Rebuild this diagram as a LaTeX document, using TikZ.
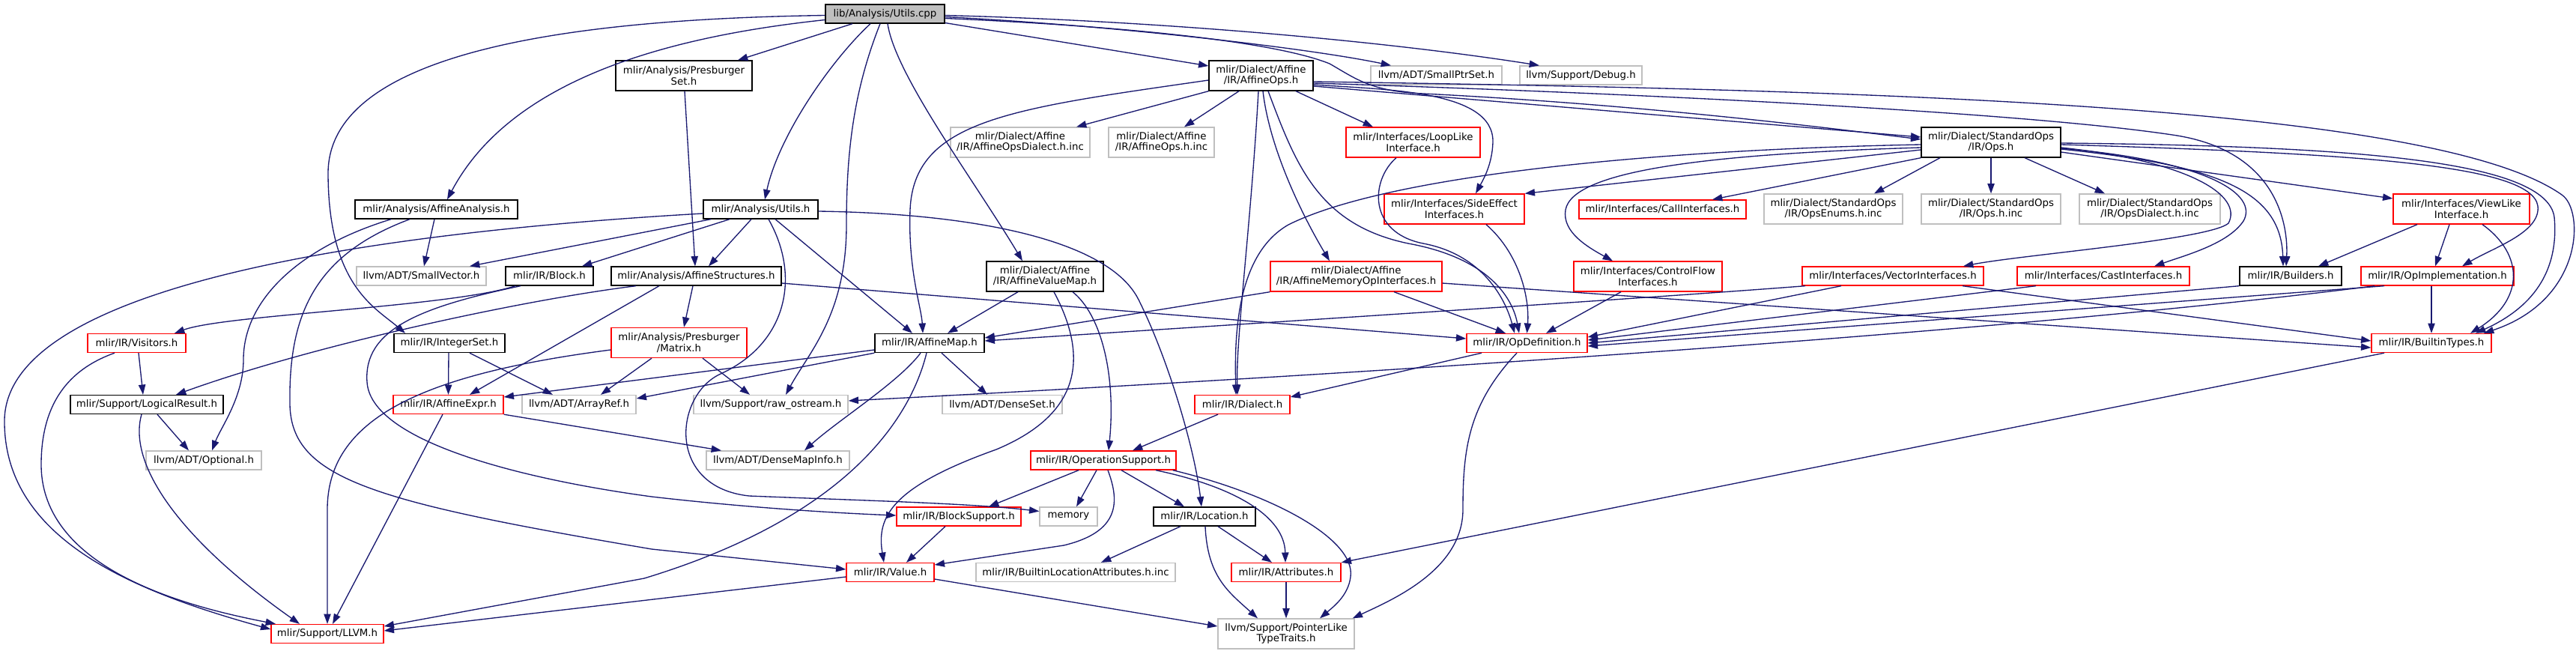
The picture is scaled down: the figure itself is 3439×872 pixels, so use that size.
\documentclass[tikz,border=0pt]{standalone}
\usepackage{fontspec}
\setmainfont{DejaVu Sans}
\usetikzlibrary{arrows.meta}
\definecolor{edgec}{HTML}{191970}
\definecolor{grayb}{HTML}{BFBFBF}
\definecolor{redb}{HTML}{FF0000}
\newcommand{\gvfont}{\fontsize{10}{10.7}\selectfont}
\begin{document}
\begin{tikzpicture}[x=0.75pt,y=-0.75pt,
  nd/.style={draw, line width=1pt, inner sep=0pt, align=center, font=\gvfont, fill=white, text=black},
  blk/.style={nd, draw=black},
  rdn/.style={nd, draw=redb},
  grn/.style={nd, draw=grayb},
  sz/.style 2 args={minimum width=#1*0.75pt, minimum height=#2*0.75pt},
  edg/.style={draw=edgec, line width=1pt, -{Triangle[length=10pt,width=7pt]}}]
\fill[white] (0,0) rectangle (3439,872);
\useasboundingbox (0,0) rectangle (3439,872);
% nodes
\node[blk, sz={159}{25}, fill=grayb] (root) at (1181.5,18.5) {lib/Analysis/Utils.cpp};
\node[blk, sz={182}{40}] (presSet) at (913,101) {mlir/Analysis/Presburger\\Set.h};
\node[blk, sz={139}{40}] (affOps) at (1683.5,101) {mlir/Dialect/Affine\\/IR/AffineOps.h};
\node[grn, sz={175}{25}] (smallPtr) at (1917.5,100.5) {llvm/ADT/SmallPtrSet.h};
\node[grn, sz={163}{25}] (debug) at (2110.5,100.5) {llvm/Support/Debug.h};
\node[grn, sz={186}{40}] (affDialInc) at (1362,190) {mlir/Dialect/Affine\\/IR/AffineOpsDialect.h.inc};
\node[grn, sz={141}{40}] (affOpsInc) at (1550.5,190) {mlir/Dialect/Affine\\/IR/AffineOps.h.inc};
\node[rdn, sz={179}{40}] (loopLike) at (1886.5,190) {mlir/Interfaces/LoopLike\\Interface.h};
\node[blk, sz={186}{40}] (stdOps) at (2658,190) {mlir/Dialect/StandardOps\\/IR/Ops.h};
\node[blk, sz={217}{25}] (affAnal) at (582.5,279.5) {mlir/Analysis/AffineAnalysis.h};
\node[blk, sz={153}{25}] (utilsH) at (1015.5,279.5) {mlir/Analysis/Utils.h};
\node[rdn, sz={187}{40}] (sideEff) at (1941.5,279) {mlir/Interfaces/SideEffect\\Interfaces.h};
\node[rdn, sz={223}{25}] (callIf) at (2219.5,279.5) {mlir/Interfaces/CallInterfaces.h};
\node[grn, sz={185}{40}] (opsEnums) at (2447.5,279) {mlir/Dialect/StandardOps\\/IR/OpsEnums.h.inc};
\node[grn, sz={186}{40}] (opsInc) at (2658,279) {mlir/Dialect/StandardOps\\/IR/Ops.h.inc};
\node[grn, sz={188}{40}] (opsDial) at (2870,279) {mlir/Dialect/StandardOps\\/IR/OpsDialect.h.inc};
\node[rdn, sz={182}{40}] (viewLike) at (3286,279) {mlir/Interfaces/ViewLike\\Interface.h};
\node[grn, sz={173}{25}] (smallVec) at (562.5,368.5) {llvm/ADT/SmallVector.h};
\node[blk, sz={117}{25}] (block) at (733.5,368.5) {mlir/IR/Block.h};
\node[blk, sz={227}{25}] (affStruct) at (929.5,368.5) {mlir/Analysis/AffineStructures.h};
\node[blk, sz={156}{40}] (affVM) at (1395,369) {mlir/Dialect/Affine\\/IR/AffineValueMap.h};
\node[rdn, sz={229}{40}] (affMem) at (1810.5,369) {mlir/Dialect/Affine\\/IR/AffineMemoryOpInterfaces.h};
\node[rdn, sz={198}{40}] (ctrlFlow) at (2200,369) {mlir/Interfaces/ControlFlow\\Interfaces.h};
\node[rdn, sz={242}{25}] (vecIf) at (2527,368.5) {mlir/Interfaces/VectorInterfaces.h};
\node[rdn, sz={230}{25}] (castIf) at (2808,368.5) {mlir/Interfaces/CastInterfaces.h};
\node[blk, sz={136}{25}] (builders) at (3058,368.5) {mlir/IR/Builders.h};
\node[rdn, sz={204}{25}] (opImpl) at (3254,368.5) {mlir/IR/OpImplementation.h};
\node[rdn, sz={131}{25}] (visitors) at (182.5,458) {mlir/IR/Visitors.h};
\node[blk, sz={148}{25}] (intSet) at (600,458) {mlir/IR/IntegerSet.h};
\node[rdn, sz={181}{40}] (matrix) at (906.5,457.5) {mlir/Analysis/Presburger\\/Matrix.h};
\node[blk, sz={146}{25}] (affMap) at (1241,458) {mlir/IR/AffineMap.h};
\node[rdn, sz={161}{25}] (opDef) at (2038.5,458) {mlir/IR/OpDefinition.h};
\node[rdn, sz={160}{25}] (builtinTypes) at (3246,458) {mlir/IR/BuiltinTypes.h};
\node[blk, sz={204}{25}] (logRes) at (196,540) {mlir/Support/LogicalResult.h};
\node[rdn, sz={147}{25}] (affExpr) at (598.5,540) {mlir/IR/AffineExpr.h};
\node[grn, sz={152}{25}] (arrayRef) at (773,540) {llvm/ADT/ArrayRef.h};
\node[grn, sz={206}{25}] (rawOs) at (1029,540) {llvm/Support/raw\_ostream.h};
\node[grn, sz={160}{25}] (denseSet) at (1338,540) {llvm/ADT/DenseSet.h};
\node[rdn, sz={127}{25}] (dialect) at (1658.5,540) {mlir/IR/Dialect.h};
\node[grn, sz={154}{25}] (optional) at (272,614.5) {llvm/ADT/Optional.h};
\node[grn, sz={191}{25}] (denseMapInfo) at (1038.5,614.5) {llvm/ADT/DenseMapInfo.h};
\node[rdn, sz={194}{25}] (opSupport) at (1473,614.5) {mlir/IR/OperationSupport.h};
\node[rdn, sz={166}{25}] (blockSupport) at (1280,689.5) {mlir/IR/BlockSupport.h};
\node[grn, sz={77}{25}] (memory) at (1426.5,689.5) {memory};
\node[blk, sz={136}{25}] (location) at (1608,689.5) {mlir/IR/Location.h};
\node[rdn, sz={117}{25}] (value) at (1188.5,764) {mlir/IR/Value.h};
\node[grn, sz={266}{25}] (builtinLoc) at (1436,764) {mlir/IR/BuiltinLocationAttributes.h.inc};
\node[rdn, sz={146}{25}] (attributes) at (1717,764) {mlir/IR/Attributes.h};
\node[grn, sz={182}{40}] (pointerLike) at (1717,846) {llvm/Support/PointerLike\\TypeTraits.h};
\node[rdn, sz={150}{25}] (llvm) at (437,846) {mlir/Support/LLVM.h};
% edges from root
\draw[edg] ([shift={(0,8)}]root.west) .. controls (880,50) and (680,110) .. ([shift={(14.5,0)}]affAnal.north);
\draw[edg] ([shift={(0,2)}]root.west) .. controls (800,25) and (440,60) .. (438,230) .. controls (438,380) and (500,410) .. ([shift={(-59,0)}]intSet.north);
\draw[edg] ([shift={(-43.5,0)}]root.south) -- ([shift={(72,0)}]presSet.north);
\draw[edg] ([shift={(-19.5,0)}]root.south) .. controls (1110,80) and (1040,180) .. ([shift={(5.5,0)}]utilsH.north);
\draw[edg] ([shift={(-6.5,0)}]root.south) .. controls (1140,120) and (1130,200) .. (1130,300) .. controls (1130,420) and (1080,470) .. ([shift={(20,0)}]rawOs.north);
\draw[edg] ([shift={(3.5,0)}]root.south) .. controls (1195,100) and (1300,240) .. ([shift={(-30,0)}]affVM.north);
\draw[edg] ([shift={(0,12)}]root.east) -- ([shift={(0,-13)}]affOps.west);
\draw[edg] ([shift={(0,4)}]root.east) .. controls (1500,35) and (1750,65) .. ([shift={(-60.5,0)}]smallPtr.north);
\draw[edg] ([shift={(0,2)}]root.east) .. controls (1550,28) and (1850,55) .. ([shift={(-55.5,0)}]debug.north);
\draw[edg] ([shift={(0,6)}]root.east) .. controls (1500,35) and (1700,55) .. (1775,85) .. controls (1810,105) and (1830,122) .. (1900,125) .. controls (2200,140) and (2450,172) .. ([shift={(0,-4)}]stdOps.west);
% edges from AffineOps
\draw[edg] ([shift={(0,12)}]affOps.east) .. controls (1850,120) and (1995,120) .. (1993,190) .. controls (1992,220) and (1980,240) .. ([shift={(28.5,0)}]sideEff.north);
\draw[edg] ([shift={(0,14)}]affOps.east) -- ([shift={(0,-7)}]stdOps.west);
\draw[edg] ([shift={(0,10)}]affOps.east) .. controls (2200,125) and (2700,150) .. (2900,180) .. controls (3040,200) and (3055,300) .. ([shift={(-6,0)}]builders.north);
\draw[edg] ([shift={(0,8)}]affOps.east) .. controls (2500,120) and (3250,140) .. (3420,260) .. controls (3450,280) and (3450,400) .. ([shift={(70,0)}]builtinTypes.north);
\draw[edg] (affOps.south west) -- ([shift={(75,0)}]affDialInc.north);
\draw[edg] ([shift={(-29.5,0)}]affOps.south) -- ([shift={(30.5,0)}]affOpsInc.north);
\draw[edg] ([shift={(46.5,0)}]affOps.south) -- ([shift={(-53.5,0)}]loopLike.north);
\draw[edg] ([shift={(0,6)}]affOps.west) .. controls (1350,145) and (1220,160) .. (1215,280) .. controls (1212,360) and (1230,410) .. ([shift={(-9,0)}]affMap.north);
\draw[edg] ([shift={(-3.5,0)}]affOps.south) .. controls (1670,300) and (1650,450) .. ([shift={(-6.5,0)}]dialect.north);
\draw[edg] ([shift={(2.5,0)}]affOps.south) .. controls (1695,200) and (1740,290) .. ([shift={(-35.5,0)}]affMem.north);
\draw[edg] ([shift={(9.5,0)}]affOps.south) .. controls (1730,220) and (1760,300) .. (1880,325) .. controls (1990,345) and (2020,400) .. ([shift={(-10.5,0)}]opDef.north);
% Presburger set, Utils.h
\draw[edg] ([shift={(1,0)}]presSet.south) -- ([shift={(-1.5,0)}]affStruct.north);
\draw[edg] ([shift={(-12.5,0)}]utilsH.south) -- ([shift={(16.5,0)}]affStruct.north);
\draw[edg] ([shift={(-66.5,0)}]utilsH.south) -- ([shift={(64.5,0)}]smallVec.north);
\draw[edg] ([shift={(-41.5,0)}]utilsH.south) -- ([shift={(43.5,0)}]block.north);
\draw[edg] ([shift={(0,5.5)}]utilsH.west) .. controls (500,310) and (10,380) .. (6,560) .. controls (4,720) and (180,790) .. ([shift={(0,-6)}]llvm.west);
\draw[edg] ([shift={(10.5,0)}]utilsH.south) .. controls (1070,370) and (1050,460) .. (960,500) .. controls (900,530) and (890,650) .. (1000,662) .. controls (1150,668) and (1300,672) .. ([shift={(0,-7)}]memory.west);
\draw[edg] ([shift={(19.5,0)}]utilsH.south) -- ([shift={(-23,0)}]affMap.north);
\draw[edg] ([shift={(0,2.5)}]utilsH.east) .. controls (1300,285) and (1480,320) .. (1520,400) .. controls (1560,480) and (1595,600) .. ([shift={(-4,0)}]location.north);
% AffineAnalysis, Block
\draw[edg] ([shift={(-2.5,0)}]affAnal.south) -- ([shift={(3.5,0)}]smallVec.north);
\draw[edg] ([shift={(-60.5,0)}]affAnal.south) .. controls (400,330) and (325,400) .. (325,480) .. controls (325,530) and (295,570) .. ([shift={(11,0)}]optional.north);
\draw[edg] ([shift={(-35.5,0)}]affAnal.south) .. controls (420,340) and (385,420) .. (387,540) .. controls (389,640) and (500,670) .. (870,733) -- ([shift={(0,-4)}]value.west);
\draw[edg] ([shift={(-45.5,0)}]block.south) .. controls (600,410) and (300,420) .. ([shift={(50.5,0)}]visitors.north);
\draw[edg] ([shift={(-38.5,0)}]block.south) .. controls (560,410) and (485,440) .. (490,510) .. controls (495,590) and (700,640) .. (870,663) .. controls (1000,678) and (1120,685) .. ([shift={(0,-1.5)}]blockSupport.west);
% AffineStructures
\draw[edg] ([shift={(-80.5,0)}]affStruct.south) .. controls (700,400) and (420,460) .. ([shift={(39,0)}]logRes.north);
\draw[edg] ([shift={(-49.5,0)}]affStruct.south) -- ([shift={(28.5,0)}]affExpr.north);
\draw[edg] ([shift={(-4.5,0)}]affStruct.south) -- ([shift={(6.5,0)}]matrix.north);
\draw[edg] ([shift={(0,9.5)}]affStruct.east) -- ([shift={(0,-6)}]opDef.west);
% IntegerSet, Matrix, Visitors, LogicalResult
\draw[edg] ([shift={(-1,0)}]intSet.south) -- (affExpr.north);
\draw[edg] ([shift={(27,0)}]intSet.south) -- ([shift={(-35,0)}]arrayRef.north);
\draw[edg] ([shift={(-36.5,0)}]matrix.south) -- ([shift={(29,0)}]arrayRef.north);
\draw[edg] ([shift={(31.5,0)}]matrix.south) -- ([shift={(-28,0)}]rawOs.north);
\draw[edg] ([shift={(0,9.5)}]matrix.west) .. controls (560,500) and (437,560) .. (437,680) -- (llvm.north);
\draw[edg] ([shift={(2.5,0)}]visitors.south) -- ([shift={(-5,0)}]logRes.north);
\draw[edg] ([shift={(-29.5,0)}]visitors.south) .. controls (100,490) and (55,530) .. (55,620) .. controls (55,760) and (250,810) .. ([shift={(-69,0)}]llvm.north);
\draw[edg] ([shift={(14,0)}]logRes.south) -- ([shift={(-20,0)}]optional.north);
\draw[edg] ([shift={(-7,0)}]logRes.south) .. controls (170,620) and (240,720) .. ([shift={(-37,0)}]llvm.north);
% AffineExpr, AffineMap
\draw[edg] ([shift={(-7.5,0)}]affExpr.south) -- ([shift={(7,0)}]llvm.north);
\draw[edg] (affExpr.south east) -- ([shift={(-75.5,0)}]denseMapInfo.north);
\draw[edg] ([shift={(0,9)}]affMap.west) -- ([shift={(0,-10)}]affExpr.east);
\draw[edg] (affMap.south west) -- ([shift={(0,-8)}]arrayRef.east);
\draw[edg] ([shift={(-12,0)}]affMap.south) .. controls (1200,510) and (1120,560) .. ([shift={(35.5,0)}]denseMapInfo.north);
\draw[edg] ([shift={(16,0)}]affMap.south) -- ([shift={(-20,0)}]denseSet.north);
\draw[edg] ([shift={(-4,0)}]affMap.south) .. controls (1215,560) and (1130,690) .. (860,772) -- ([shift={(0,-10)}]llvm.east);
% Value, BlockSupport, AffineValueMap
\draw[edg] ([shift={(0,6)}]value.west) -- ([shift={(0,-4)}]llvm.east);
\draw[edg] ([shift={(0,9)}]value.east) -- ([shift={(0,-10)}]pointerLike.west);
\draw[edg] ([shift={(-18,0)}]blockSupport.south) -- ([shift={(21.5,0)}]value.north);
\draw[edg] ([shift={(-36,0)}]affVM.south) -- ([shift={(24,0)}]affMap.north);
\draw[edg] ([shift={(12,0)}]affVM.south) .. controls (1450,470) and (1450,550) .. (1330,600) .. controls (1190,650) and (1170,690) .. ([shift={(-8.5,0)}]value.north);
\draw[edg] ([shift={(37,0)}]affVM.south) .. controls (1470,420) and (1490,500) .. ([shift={(7,0)}]opSupport.north);
% Dialect, OperationSupport, Location, Attributes
\draw[edg] ([shift={(-32.5,0)}]dialect.south) -- ([shift={(39,0)}]opSupport.north);
\draw[edg] ([shift={(-33,0)}]opSupport.south) -- ([shift={(40,0)}]blockSupport.north);
\draw[edg] ([shift={(-9,0)}]opSupport.south) -- ([shift={(10.5,0)}]memory.north);
\draw[edg] ([shift={(6,0)}]opSupport.south) .. controls (1495,670) and (1495,710) .. (1420,728) -- ([shift={(0,-10)}]value.east);
\draw[edg] ([shift={(24,0)}]opSupport.south) -- ([shift={(-27,0)}]location.north);
\draw[edg] ([shift={(70,0)}]opSupport.south) .. controls (1650,650) and (1715,690) .. ([shift={(-1,0)}]attributes.north);
\draw[edg] ([shift={(-5,0)}]opSupport.south east) .. controls (1700,660) and (1810,720) .. (1803,770) .. controls (1800,795) and (1780,810) .. ([shift={(45,0)}]pointerLike.north);
\draw[edg] ([shift={(-32,0)}]location.south) -- ([shift={(34,0)}]builtinLoc.north);
\draw[edg] ([shift={(18,0)}]location.south) -- ([shift={(-19,0)}]attributes.north);
\draw[edg] ([shift={(1,0)}]location.south) .. controls (1612,770) and (1640,790) .. ([shift={(-38,0)}]pointerLike.north);
\draw[edg] (attributes.south) -- (pointerLike.north);
% OpDefinition
\draw[edg] ([shift={(-13.5,0)}]opDef.south) .. controls (1960,540) and (1953,600) .. (1953,680) .. controls (1953,760) and (1860,800) .. ([shift={(-3,0)}]pointerLike.north east);
\draw[edg] ([shift={(-60.5,0)}]opDef.south) -- ([shift={(0,-10)}]dialect.east);
% interfaces into OpDefinition
\draw[edg] ([shift={(-22.5,0)}]loopLike.south) .. controls (1830,240) and (1825,310) .. (1900,325) .. controls (1980,340) and (2010,400) .. ([shift={(-16.5,0)}]opDef.north);
\draw[edg] ([shift={(42.5,0)}]sideEff.south) .. controls (2030,340) and (2042,400) .. (opDef.north);
\draw[edg] ([shift={(50.5,0)}]affMem.south) -- ([shift={(-28.5,0)}]opDef.north);
\draw[edg] (affMem.south west) -- ([shift={(0,-7)}]affMap.east);
\draw[edg] ([shift={(0,9)}]affMem.east) -- ([shift={(0,6)}]builtinTypes.west);
\draw[edg] ([shift={(-36,0)}]ctrlFlow.south) -- ([shift={(25.5,0)}]opDef.north);
\draw[edg] ([shift={(-69,0)}]vecIf.south) -- ([shift={(0,-8)}]opDef.east);
\draw[edg] ([shift={(-117,0)}]vecIf.south) .. controls (2200,398) and (1700,430) .. ([shift={(0,-3)}]affMap.east);
\draw[edg] ([shift={(93,0)}]vecIf.south) -- ([shift={(0,-3)}]builtinTypes.west);
\draw[edg] ([shift={(-90,0)}]castIf.south) -- ([shift={(0,-4)}]opDef.east);
\draw[edg] (builders.south west) -- (opDef.east);
\draw[edg] ([shift={(-71,0)}]opImpl.south) -- ([shift={(0,4)}]opDef.east);
\draw[edg] ([shift={(-84,0)}]opImpl.south) .. controls (2750,435) and (2000,490) .. ([shift={(0,-5)}]rawOs.east);
\draw[edg] ([shift={(-8,0)}]opImpl.south) -- (builtinTypes.north);
% ViewLike
\draw[edg] ([shift={(-59,0)}]viewLike.south) -- ([shift={(37,0)}]builders.north);
\draw[edg] ([shift={(-16,0)}]viewLike.south) -- ([shift={(-3,0)}]opImpl.north);
\draw[edg] ([shift={(28,0)}]viewLike.south) .. controls (3370,340) and (3370,400) .. ([shift={(52,0)}]builtinTypes.north);
% StandardOps Ops.h
\draw[edg] ([shift={(-68,0)}]stdOps.south) -- ([shift={(54.5,0)}]opsEnums.north);
\draw[edg] (stdOps.south) -- (opsInc.north);
\draw[edg] ([shift={(45,0)}]stdOps.south) -- ([shift={(-60,0)}]opsDial.north);
\draw[edg] (stdOps.south west) -- ([shift={(66.5,0)}]callIf.north);
\draw[edg] ([shift={(0,10)}]stdOps.west) -- (sideEff.north east);
\draw[edg] ([shift={(0,7)}]stdOps.west) .. controls (2300,205) and (2100,225) .. (2090,280) .. controls (2085,310) and (2120,330) .. ([shift={(-47,0)}]ctrlFlow.north);
\draw[edg] ([shift={(0,3)}]stdOps.west) .. controls (2200,200) and (1850,235) .. (1720,300) .. controls (1650,340) and (1648,450) .. ([shift={(-8.5,0)}]dialect.north);
\draw[edg] ([shift={(0,7)}]stdOps.east) .. controls (2920,215) and (2995,260) .. (2975,298) .. controls (2950,320) and (2700,340) .. ([shift={(94,0)}]vecIf.north);
\draw[edg] ([shift={(0,8)}]stdOps.east) .. controls (2950,215) and (3015,260) .. (2995,295) .. controls (2975,325) and (2920,340) .. ([shift={(68,0)}]castIf.north);
\draw[edg] ([shift={(0,9)}]stdOps.east) .. controls (2950,220) and (3045,250) .. ([shift={(-10,0)}]builders.north);
\draw[edg] ([shift={(0,13)}]stdOps.east) -- ([shift={(0,-14)}]viewLike.west);
\draw[edg] ([shift={(0,3)}]stdOps.east) .. controls (3150,205) and (3380,220) .. (3388,275) .. controls (3392,310) and (3330,330) .. ([shift={(33,0)}]opImpl.north);
\draw[edg] ([shift={(0,1)}]stdOps.east) .. controls (3150,195) and (3400,215) .. (3410,290) .. controls (3418,380) and (3360,420) .. ([shift={(59,0)}]builtinTypes.north);
% BuiltinTypes
\draw[edg] ([shift={(-63,0)}]builtinTypes.south) -- (attributes.north east);
\end{tikzpicture}
\end{document}
